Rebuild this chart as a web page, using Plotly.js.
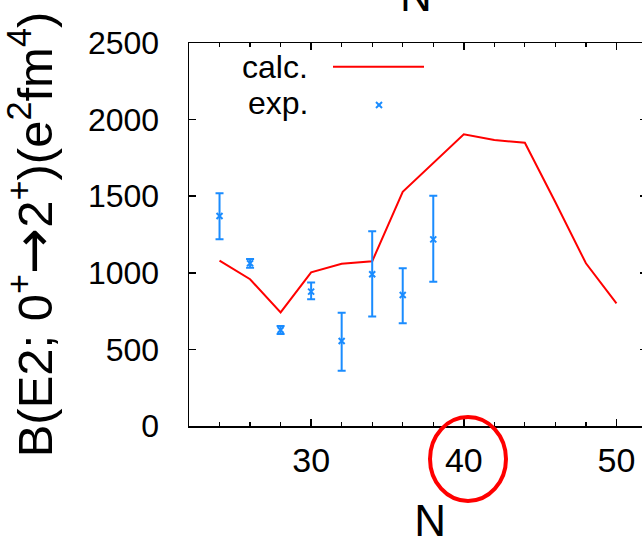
<!DOCTYPE html>
<html>
<head>
<meta charset="utf-8">
<script src="https://cdn.plot.ly/plotly-3.0.1.min.js"></script>
<style>
html, body { margin:0; padding:0; overflow:hidden; background:#fff; }
#chart { width:660px; height:545px; }
</style>
</head>
<body>
<div id="chart"></div>
<script>
// Calculated B(E2) values
var calcN = [24, 26, 28, 30, 32, 34, 36, 38, 40, 42, 44, 46, 48, 50];
var calcBE2 = [1079, 958, 742, 1003, 1059, 1075, 1529, 1715, 1904, 1867, 1849, 1460, 1062, 801];

// Experimental B(E2) values with error range
var expN = [24, 26, 28, 30, 32, 34, 36, 38];
var expBE2 = [1371, 1062, 627, 877, 555, 990, 855, 1218];
var expHigh = [1519, 1090, 653, 936, 740, 1271, 1029, 1503];
var expLow = [1219, 1033, 601, 827, 361, 714, 670, 942];

var xTickVals = [30, 40, 50];
var yTickVals = [0, 500, 1000, 1500, 2000, 2500];

var FONT = "Liberation Sans, Arial, sans-serif";
var BLUE = "#1a8cff";
var RED = "#ff0000";

var errPlus = expBE2.map(function(v, i){ return expHigh[i] - v; });
var errMinus = expBE2.map(function(v, i){ return v - expLow[i]; });

var traces = [
  {
    x: calcN, y: calcBE2, type: "scatter", mode: "lines", name: "calc.",
    line: {color: RED, width: 2}, showlegend: false
  },
  {
    x: expN, y: expBE2, type: "scatter", mode: "markers", name: "exp.",
    marker: {symbol: "x-thin", size: 6, color: BLUE, line: {color: BLUE, width: 2}},
    error_y: {type: "data", symmetric: false, array: errPlus, arrayminus: errMinus,
              color: BLUE, thickness: 2, width: 4},
    showlegend: false
  }
];

// plot area in pixels: x 189..647, y 43..426
function px(p) { return (p - 189) / 458; }
function py(p) { return (426 - p) / 383; }

var layout = {
  width: 660, height: 545,
  margin: {l: 189, r: 13, t: 43, b: 119},
  paper_bgcolor: "#fff", plot_bgcolor: "#fff",
  font: {family: FONT, color: "#000"},
  showlegend: false,
  xaxis: {
    range: [22, 52], tickvals: xTickVals, ticktext: xTickVals.map(String),
    showgrid: false, zeroline: false,
    showline: true, linecolor: "#000", linewidth: 1.5, mirror: "allticks",
    ticks: "inside", ticklen: 7, tickwidth: 1.5, tickcolor: "#000",
    minor: {dtick: 2, tick0: 0, ticks: "inside", ticklen: 4, tickwidth: 1.2, tickcolor: "#000", showgrid: false},
    tickfont: {family: FONT, size: 34, color: "#000"},
    ticklabelstandoff: 4,
    title: {text: "&nbsp;&nbsp;N", font: {family: FONT, size: 44, color: "#000"}, standoff: 39},
    automargin: false
  },
  yaxis: {
    range: [0, 2500], tickvals: yTickVals, ticktext: yTickVals.map(String),
    showgrid: false, zeroline: false,
    showline: true, linecolor: "#000", linewidth: 1.5, mirror: "allticks",
    ticks: "inside", ticklen: 7, tickwidth: 1.5, tickcolor: "#000",
    tickfont: {family: FONT, size: 32, color: "#000"},
    ticklabelstandoff: 22,
    title: {text: "B(E2; 0<sup>+</sup><span style=\"font-family:DejaVu Sans;font-size:55px\">→</span>2<sup>+</sup>)(e<sup>2</sup>fm<sup>4</sup>)",
            font: {family: FONT, size: 49, color: "#000"}, standoff: 23},
    automargin: false
  },
  annotations: [
    {xref: "paper", yref: "paper", x: px(310), y: py(67), xanchor: "right", yanchor: "middle",
     text: "calc.", showarrow: false, font: {family: FONT, size: 32, color: "#000"}},
    {xref: "paper", yref: "paper", x: px(310), y: py(103), xanchor: "right", yanchor: "middle",
     text: "exp.", showarrow: false, font: {family: FONT, size: 32, color: "#000"}},
    {xref: "paper", yref: "paper", x: px(416), y: py(22), xanchor: "center", yanchor: "bottom",
     text: "N", showarrow: false, font: {family: FONT, size: 44, color: "#000"}}
  ],
  shapes: [
    {type: "line", xref: "paper", yref: "paper", x0: px(333), x1: px(424), y0: py(66.7), y1: py(66.7),
     line: {color: RED, width: 2}},
    {type: "line", xref: "paper", yref: "paper", x0: px(376), x1: px(382), y0: py(102), y1: py(108),
     line: {color: BLUE, width: 2}},
    {type: "line", xref: "paper", yref: "paper", x0: px(376), x1: px(382), y0: py(108), y1: py(102),
     line: {color: BLUE, width: 2}},
    {type: "circle", xref: "paper", yref: "paper", x0: px(430), x1: px(506), y0: py(501), y1: py(417),
     line: {color: RED, width: 4}}
  ]
};

Plotly.newPlot("chart", traces, layout, {displayModeBar: false, staticPlot: true});
</script>
</body>
</html>
